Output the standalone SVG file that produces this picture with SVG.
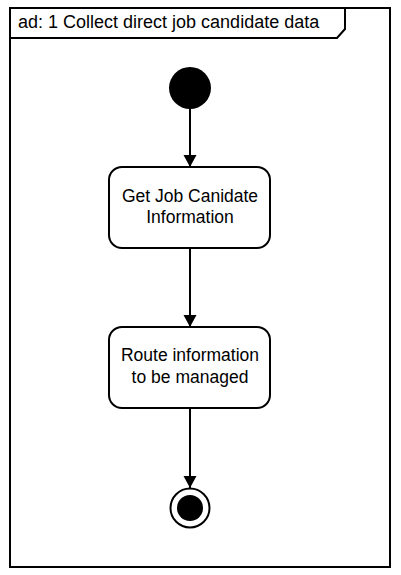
<svg xmlns="http://www.w3.org/2000/svg" width="401" height="575" viewBox="0 0 401 575">
<style>
.ln{fill:none;stroke:#000;stroke-width:2}
.box{fill:#fff;stroke:#000;stroke-width:2}
.t{font-family:"Liberation Sans",Arial,sans-serif;font-size:17.5px;fill:#000;text-anchor:middle}
.tab{font-family:"Liberation Sans",Arial,sans-serif;font-size:18px;fill:#000}
</style>
<defs>
<marker id="ah" markerWidth="12" markerHeight="16" refX="12" refY="8" orient="auto" markerUnits="userSpaceOnUse">
<path d="M0,1.5 L12,8 L0,14.5 Z" fill="#000"/>
</marker>
</defs>
<rect width="401" height="575" fill="#fff"/>
<g id="frame">
<rect x="10" y="8" width="380" height="559" class="ln"/>
<path d="M10,38 L337,38 L345,29 L345,8" class="ln"/>
<text x="18" y="28" class="tab">ad: 1 Collect direct job candidate data</text>
</g>
<g id="connectors">
<line x1="190" y1="109" x2="190" y2="167" class="ln" marker-end="url(#ah)"/>
<line x1="190" y1="248" x2="190" y2="327" class="ln" marker-end="url(#ah)"/>
<line x1="190" y1="408" x2="190" y2="488" class="ln" marker-end="url(#ah)"/>
</g>
<g id="start">
<circle cx="190" cy="88" r="21" fill="#000"/>
</g>
<g id="getInfo">
<rect x="109" y="167" width="161" height="81" rx="13" class="box"/>
<text x="190" y="202" class="t">Get Job Canidate</text>
<text x="190" y="223" class="t">Information</text>
</g>
<g id="route">
<rect x="109" y="327" width="161" height="81" rx="13" class="box"/>
<text x="190" y="361" class="t">Route information</text>
<text x="190" y="383" class="t">to be managed</text>
</g>
<g id="end">
<circle cx="190" cy="508" r="19.5" fill="#fff" stroke="#000" stroke-width="2"/>
<circle cx="190" cy="508" r="13" fill="#000"/>
</g>
</svg>
